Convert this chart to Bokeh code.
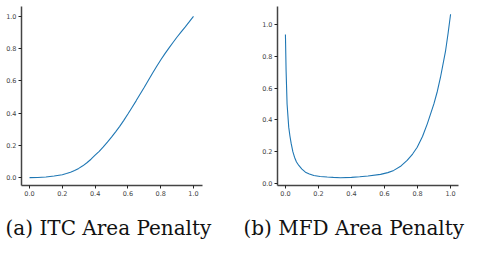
from bokeh.plotting import figure
from bokeh.layouts import row
from bokeh.models import FixedTicker, Title, Range1d, NumeralTickFormatter
from bokeh.embed import file_html
from bokeh.resources import INLINE

# ITC area penalty curve
itc_x = [0.0, 0.05, 0.1, 0.15, 0.2, 0.225, 0.25, 0.275, 0.3, 0.325, 0.35, 0.375,
         0.4, 0.425, 0.45, 0.475, 0.5, 0.525, 0.55, 0.575, 0.6, 0.625, 0.65,
         0.675, 0.7, 0.725, 0.75, 0.775, 0.8, 0.825, 0.85, 0.875, 0.9, 0.925,
         0.95, 0.975, 1.0]
itc_y = [0.0, 0.001, 0.004, 0.01, 0.018, 0.025, 0.033, 0.044, 0.057, 0.073, 0.092, 0.114,
         0.139, 0.163, 0.19, 0.22, 0.251, 0.284, 0.318, 0.355, 0.394, 0.435, 0.476,
         0.518, 0.56, 0.604, 0.647, 0.689, 0.729, 0.767, 0.803, 0.838, 0.872, 0.904,
         0.935, 0.967, 1.0]

# MFD area penalty curve
mfd_x = [0.0, 0.004, 0.01, 0.02, 0.027, 0.035, 0.045, 0.055, 0.067, 0.081, 0.1,
         0.121, 0.145, 0.172, 0.21, 0.253, 0.29, 0.333, 0.4, 0.45, 0.5, 0.576,
         0.62, 0.656, 0.7, 0.737, 0.77, 0.798, 0.83, 0.859, 0.899, 0.92, 0.939,
         0.97, 0.985, 1.0]
mfd_y = [0.937, 0.71, 0.5, 0.354, 0.3, 0.25, 0.2, 0.165, 0.135, 0.113, 0.09,
         0.071, 0.06, 0.05, 0.044, 0.04, 0.038, 0.036, 0.038, 0.042, 0.047, 0.057,
         0.068, 0.082, 0.11, 0.145, 0.185, 0.228, 0.295, 0.375, 0.5, 0.58, 0.668,
         0.836, 0.945, 1.064]

ticks = [0.0, 0.2, 0.4, 0.6, 0.8, 1.0]
captions = ["(a) ITC Area Penalty", "(b) MFD Area Penalty"]
LINE_COLOR = "#1f77b4"


def panel(xs, ys, caption, width, borders, xr, yr, caption_offset):
    left, right, top, bottom = borders
    p = figure(width=width, height=255, output_backend="svg", toolbar_location=None,
               x_range=Range1d(*xr), y_range=Range1d(*yr),
               min_border_left=left, min_border_right=right,
               min_border_top=top, min_border_bottom=bottom)
    p.line(xs, ys, line_color=LINE_COLOR, line_width=1.1)
    p.grid.visible = False
    p.outline_line_color = None
    for ax in (p.xaxis[0], p.yaxis[0]):
        ax.ticker = FixedTicker(ticks=ticks)
        ax.formatter = NumeralTickFormatter(format="0.0")
        ax.minor_tick_line_color = None
        ax.major_tick_in = 0
        ax.major_tick_out = 3
        ax.major_tick_line_color = "#222222"
        ax.axis_line_color = "#444444"
        ax.axis_line_width = 1.5
        ax.major_label_text_font = "DejaVu Sans"
        ax.major_label_text_font_size = "6.5px"
        ax.major_label_text_color = "#444444"
        ax.major_label_standoff = 2
    p.add_layout(Title(text=caption, align="left", offset=caption_offset,
                       text_font="DejaVu Serif", text_font_size="20px",
                       text_font_style="normal", text_color="#111111",
                       vertical_align="bottom", standoff=31), "below")
    return p


p1 = panel(itc_x, itc_y, captions[0], 240, (21, 38, 5, 69),
           (-0.049, 1.055), (-0.049, 1.061), -16)
p2 = panel(mfd_x, mfd_y, captions[1], 241, (37, 23, 6, 70),
           (-0.048, 1.048), (-0.013, 1.113), -34)

layout = row(p1, p2)
open("out.html", "w").write(file_html(layout, INLINE))
